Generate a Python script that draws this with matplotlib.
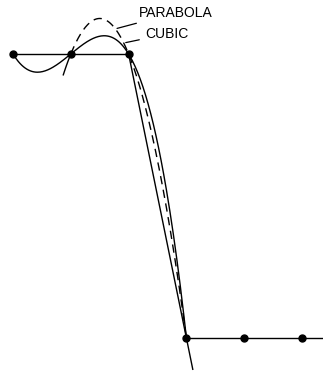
import numpy as np
import matplotlib
matplotlib.use("Agg")
import matplotlib.pyplot as plt

# sample nodes of the step
X = [0, 1, 2, 3, 4, 5]
Y = [1, 1, 1, 0, 0, 0]

# cubic through the first four nodes, parabola through nodes 1..3
cubic = np.poly1d(np.polyfit(X[0:4], Y[0:4], 3))
parab = np.poly1d(np.polyfit(X[1:4], Y[1:4], 2))

fig = plt.figure(figsize=(3.23, 3.71), dpi=100)
ax = fig.add_axes([0, 0, 1, 1])
ax.set_xlim(-0.225, 5.363)
ax.set_ylim(-0.116, 1.19)
ax.axis("off")

lw = 1.0
# flat parts
ax.plot([X[0], X[2]], [1, 1], c="k", lw=lw)
ax.plot([X[3], 5.4], [0, 0], c="k", lw=lw)
# straight line between nodes 2 and 3, extended below
xs = np.linspace(X[2], 3.11, 20)
ax.plot(xs, 1 - (xs - X[2]), c="k", lw=lw)

xc = np.linspace(X[0], X[3], 200)
ax.plot(xc, cubic(xc), c="k", lw=lw)

# parabola: solid tail left of node 1, dashed elsewhere
xl = np.linspace(0.87, X[1], 20)
ax.plot(xl, parab(xl), c="k", lw=lw)
xp = np.linspace(X[1], X[3], 200)
ax.plot(xp, parab(xp), c="k", lw=lw, dashes=(6, 4))

ax.plot(X, Y, "o", c="k", ms=5)

# labels with leaders
ax.annotate("PARABOLA", xy=(1.8, 1.09), xytext=(2.18, 1.145),
            fontsize=10, family="Liberation Sans", va="center",
            arrowprops=dict(arrowstyle="-", lw=0.9, shrinkB=0, shrinkA=2))
ax.annotate("CUBIC", xy=(1.95, 1.04), xytext=(2.28, 1.07),
            fontsize=10, family="Liberation Sans", va="center",
            arrowprops=dict(arrowstyle="-", lw=0.9, shrinkB=0, shrinkA=2))

fig.savefig("out.png", dpi=100)
